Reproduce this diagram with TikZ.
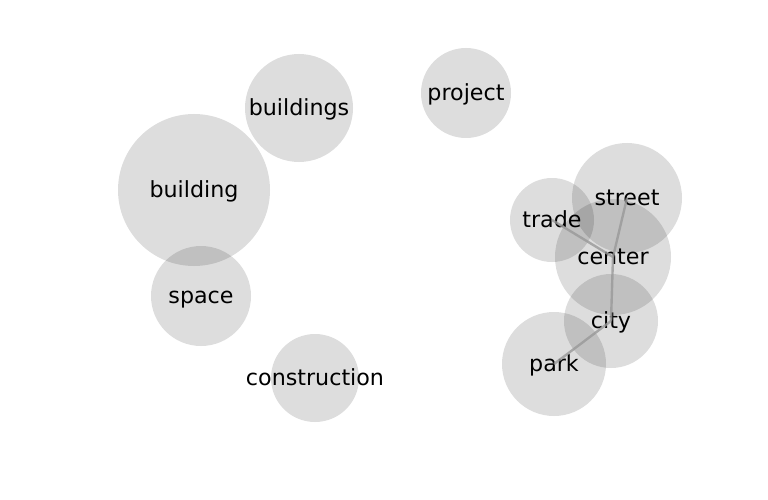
\documentclass[tikz,border=0pt]{standalone}
\usepackage{fontspec}
\setmainfont{DejaVu Sans}
\begin{document}
\begin{tikzpicture}[x=1pt,y=-1pt,
  bub/.style={circle,fill=black,fill opacity=0.135,draw=none,inner sep=0pt},
  lbl/.style={font=\fontsize{22.2}{26}\selectfont,inner sep=0pt,anchor=center,text height=17.4pt,text depth=2pt},
  edge/.style={draw=black!40,line width=2.4pt,opacity=0.8}]
\useasboundingbox (0,0) rectangle (768,500);
% circles
\path[bub] (194,190) circle (76);
\path[bub] (299,108) circle (54);
\path[bub] (466,93) circle (45);
\path[bub] (201,296) circle (50);
\path[bub] (315,378) circle (44);
\path[bub] (552,220) circle (42);
\path[bub] (627,198) circle (55);
\path[bub] (613,257) circle (58);
\path[bub] (611,321) circle (47);
\path[bub] (554,364) circle (52);
% label nodes
\node[lbl] (building) at (194,190) {building};
\node[lbl] (buildings) at (299,108) {buildings};
\node[lbl] (project) at (466,93) {project};
\node[lbl] (space) at (201,296) {space};
\node[lbl] (construction) at (315,378) {construction};
\node[lbl] (trade) at (552,220) {trade};
\node[lbl] (street) at (627,198) {street};
\node[lbl] (center) at (613,257) {center};
\node[lbl] (city) at (611,321) {city};
\node[lbl] (park) at (554,364) {park};
% edges
\draw[edge] (trade.center) -- (center.center);
\draw[edge] (street.center) -- (center.center);
\draw[edge] (center.center) -- (city.center);
\draw[edge] (city.center) -- (park.center);
\end{tikzpicture}
\end{document}
